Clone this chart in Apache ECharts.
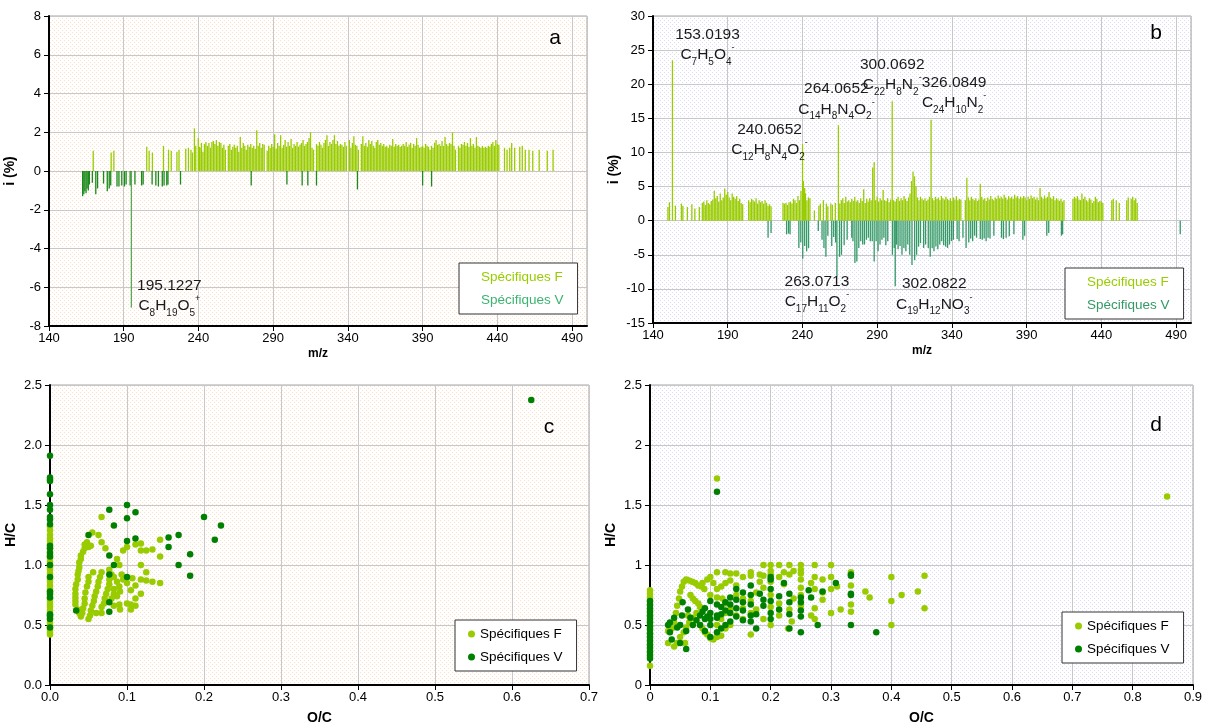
<!DOCTYPE html>
<html><head><meta charset="utf-8">
<script src="https://cdn.jsdelivr.net/npm/echarts@6/dist/echarts.min.js"></script>
<style>html,body{margin:0;padding:0;background:#fff}#c{width:1207px;height:726px}</style>
</head><body><div id="c"></div>
<script>
// ---------- DATA ----------
const seriesNames = ['Spécifiques F', 'Spécifiques V'];
const aTicksX = [140, 190, 240, 290, 340, 390, 440, 490];

// Panel a : m/z vs i (%)
const aF = [[169.6,1.05],[181.6,0.95],[183.4,1.05],[205.4,1.25],[207,1.05],[209.2,0.95],[216.6,1.3],[220,1.1],[221.8,1.05],[225.6,1.0],[227,1.1],[231.5,1.15],[233.3,1.2],[235,1.1],[236,0.95],[237.3,2.2],[238.2,1.3],[239.9,1.7],[240.7,1.25],
[241,1.2],[242,1.45],[243,1.0],[244,1.4],[245,1.5],[246,1.3],[247,1.45],[248,1.2],[249,1.5],[250,1.55],[251,1.4],[252,1.6],[253,1.3],[254,1.5],[255,1.45],[256,1.2],[257,1.35],[258,1.1],[260,1.3],[261,1.4],[262,1.1],[263,1.25],[264,1.35],[265,1.2],[266,1.3],[267,1.0],[268,1.75],[269,1.2],[270,1.45],[271,1.3],[272,1.1],[273,1.35],[274,1.25],[275,1.4],[276,1.2],[277,1.3],[278,1.15],[279,2.1],[280,1.3],[281,1.45],[282,1.2],[283,1.4],[284,1.35],[286,1.05],[287,1.3],[288,1.2],[289,1.4],[290,1.25],[291,1.9],[292,1.15],[293,1.45],[294,1.3],[295,1.85],[296,1.2],[297,1.35],[298,1.6],[299,1.25],[300,1.5],[301,1.3],[302,1.65],[303,1.2],[304,1.4],[305,1.3],[306,1.5],[307,1.25],[308,1.35],[309,1.45],[310,1.6],[311,1.3],[312,1.4],[313,1.5],[314,1.7],[315,2.0],[316,1.2],[317,1.1],[319,1.4],[320,1.3],[321,1.5],[322,1.35],[323,1.2],[324,1.45],[325,1.6],[326,1.85],[327,1.3],[328,1.5],[329,1.4],[330,1.6],[331,1.85],[332,1.4],[333,1.55],[334,1.3],[335,1.4],[336,1.35],[337,1.25],[338,1.5],[339,1.3],[341,1.6],[342,1.2],[343,1.45],[344,1.8],[345,1.35],[346,1.3],[347,1.1],[349,1.4],[350,1.8],[351,1.3],[352,1.45],[353,1.25],[354,1.6],[355,1.4],[356,1.55],[357,1.3],[358,1.2],[359,1.5],[360,1.6],[361,1.35],[362,1.45],[363,1.3],[364,1.4],[365,1.25],[366,1.3],[367,1.2],[368,1.35],[369,1.3],[370,1.65],[371,1.25],[372,1.4],[373,1.3],[374,1.35],[375,1.25],[376,1.3],[377,1.4],[378,1.3],[379,1.5],[380,1.25],[381,1.35],[382,1.45],[383,1.2],[384,1.4],[385,1.3],[386,1.7],[387,1.35],[388,1.2],[389,1.25],[390,1.3],[391,1.2],[392,1.4],[393,1.3],[394,1.25],[395,1.1],[396,1.3],[397,1.2],[398,1.45],[399,1.6],[400,1.35],[401,1.4],[402,1.3],[403,1.55],[404,1.3],[405,1.75],[406,1.4],[407,1.3],[408,1.45],[409,1.4],[410,2.0],[411,1.3],[412,1.1],[414,1.3],[415,1.2],[416,1.4],[417,1.35],[418,1.5],[419,1.3],[420,1.45],[421,1.25],[422,1.7],[423,1.3],[424,1.4],[425,1.2],[426,1.75],[427,1.3],[428,1.25],[429,1.2],[430,1.3],[431,1.2],[432,1.25],[433,1.2],[434,1.3],[435,1.25],[436,1.4],[437,1.5],[438,1.3],[439,1.6],[440,1.4],[441,1.35],
[444.8,1.2],[446.5,1.1],[448.3,1.2],[449.6,1.45],[451.6,1.2],[455,1.25],[456.7,1.3],[458.7,1.1],[461.2,1.1],[463.7,1.05],[468,1.1],[473.4,1.05],[477.3,1.1]];
const aV = [[162.5,-1.3],[163.3,-1.2],[164,-1.05],[164.8,-1.15],[165.5,-0.9],[166.3,-1.0],[167,-0.7],[169,-0.6],[171.3,-1.2],[172.5,-0.9],[176.5,-0.65],[179,-1.05],[180.3,-0.9],[181.3,-0.75],[185.5,-0.8],[186.8,-0.8],[188.7,-0.75],[190.5,-0.8],[191.6,-0.7],[194.3,-0.75],[195.1227,-7.05],[197.5,-0.7],[202,-0.75],[203,-0.7],[209,-0.7],[211.5,-0.75],[213.2,-0.8],[215.8,-0.8],[217,-0.75],[218.8,-0.75],[219.6,-0.7],[228,-0.7],[275.3,-0.75],[299.2,-0.7],[309.4,-0.75],[313.2,-0.75],[319,-0.75],[346.4,-0.95],[390,-0.75],[396,-0.8]];
const aAnnot = [{mz:195.1227, i:-7.05, mass:'195.1227', formula:'C{s|8}H{s|19}O{s|5}{p|+}'}];

// Panel b
const bF = [[150,2.0],[151,2.7],[153.0193,23.5],[155,2.2],[159,2.5],[160,2.2],[163,2.0],[166,2.4],[168,1.8],[171,2.0],[173,2.6],[174,2.8],[175,2.3],[176,3.0],[177,2.6],[178,2.4],[179,2.9],[180,3.1],[181,4.4],[182,3.3],[183,3.6],[184,2.8],[185,4.0],[186,3.0],[187,3.4],[188,4.7],[189,3.8],[190,4.2],[191,3.4],[192,3.0],[193,4.0],[194,3.5],[195,3.2],[196,3.6],[197,2.9],[198,3.2],[199,2.6],[200,2.4],
[204,3.0],[205,2.7],[206,3.2],[207,3.0],[208,2.8],[209,3.3],[210,2.5],[211,3.0],[212,2.7],[213,2.9],[214,2.5],[215,3.0],[216,2.6],[217,2.2],[218,2.4],[219,2.1],
[227,2.6],[228,2.5],[229,2.6],[230,2.3],[231,2.7],[232,2.8],[233,2.5],[234,3.2],[235,3.0],[236,2.6],[237,3.6],[238,3.0],[239,4.4],[240.0652,11.2],[240.6,5.8],[241.5,4.8],[242,4.0],[243,3.0],[244,3.4],[245,3.3],
[248,1.5],[251,2.2],[252,2.5],[254,3.0],[256,2.5],[257,2.1],[259,2.5],[260,2.3],[262,2.6],[264.0652,14.0],[265,2.5],[266,3.0],[267,3.3],[268,2.6],[269,3.5],[270,2.8],[271,3.0],[272,2.7],[273,3.2],[274,2.9],[275,3.5],[276,2.8],[277,3.0],[278,2.6],[279,3.3],[280,2.9],[281,4.6],[282,2.6],[283,3.2],[284,2.8],[285,3.3],[286,3.0],[287,7.8],[288,8.6],[289,3.0],[290,3.5],[291,2.8],[292,3.3],[293,3.0],[294,4.5],[295,3.0],[296,2.9],[297,3.3],[298,2.7],[299,3.1],[300.0692,17.5],[301,3.0],[302,2.8],[303,3.2],[304,3.5],[305,2.9],[306,3.3],[307,3.0],[308,3.6],[309,3.2],[310,2.9],[311,3.4],[312,4.0],[313,5.8],[314,7.2],[315,6.5],[316,5.0],[317,3.4],[318,3.0],[319,3.5],[320,3.2],[321,3.0],[322,3.3],[323,2.9],[324,3.1],[325,3.5],[326.0849,14.8],[327,3.3],[328,3.0],[329,3.5],[330,3.2],[331,3.4],[332,3.0],[333,3.6],[334,3.3],[335,3.1],[336,3.5],[337,3.2],[338,3.0],[339,3.3],[340,2.9],[341,3.4],[342,3.1],[343,3.6],[344,3.0],[345,3.2],[346,3.1],[349,3.0],[350,6.3],[351,3.4],[352,3.0],[353,3.5],[354,3.2],[355,3.0],[356,3.3],[357,2.9],[358,3.1],[359,5.4],[360,3.5],[361,3.1],[362,3.3],[363,2.9],[364,3.4],[365,3.1],[366,3.6],[367,3.2],[368,3.0],[369,3.4],[370,3.2],[371,3.7],[372,3.3],[373,3.5],[374,3.2],[375,3.8],[376,3.4],[377,3.1],[378,3.6],[379,3.3],[380,3.5],[381,3.2],[382,3.8],[383,3.4],[384,3.6],[385,3.2],[386,3.5],[387,3.3],[388,3.6],[389,3.4],[390,3.0],[391,3.5],[392,3.2],[393,3.7],[394,3.3],[395,3.5],[396,3.1],[397,3.4],[398,3.0],[399,4.8],[400,3.5],[401,3.2],[402,3.7],[403,3.3],[404,3.5],[405,4.2],[406,3.4],[407,3.2],[408,3.6],[409,3.0],[410,3.3],[411,3.1],[412,2.9],[413,3.2],[414,2.8],[415,3.0],
[421,3.2],[422,3.5],[423,3.3],[424,3.6],[425,3.1],[426,3.0],[427,4.0],[428,3.2],[429,3.5],[430,3.0],[431,2.8],[432,3.3],[433,3.1],[434,2.6],[435,2.9],[436,3.5],[437,3.2],[438,2.7],[439,2.9],[440,2.8],[441,2.6],
[447,3.0],[448,3.2],[450,3.0],[452,2.6],[457,3.0],[458,3.4],[460,3.2],[461,3.5],[462,3.0],[463,3.3],[464,2.6]];
const bV = [[217,-2.5],[219,-1.8],[229.4,-2.0],[230.7,-1.9],[231.7,-2.0],[237.6,-4.0],[238.9,-3.2],[240.2,-5.6],[241.5,-3.7],[242.8,-4.5],[244.1,-4.0],[250.6,-1.5],[253.1,-2.8],[254.4,-4.0],[255.7,-5.3],[257,-2.2],[259.6,-3.7],[260.9,-2.4],[262.2,-3.2],[263.0713,-8.2],[264.8,-5.3],[266.1,-5.0],[267.9,-3.6],[269.9,-2.8],[273,-2.5],[273.8,-3.0],[275.1,-6.2],[276.4,-6.0],[277.7,-4.0],[279,-3.0],[280.3,-3.5],[281.5,-3.5],[282.8,-2.8],[284.1,-2.5],[285.4,-3.0],[286.7,-3.0],[288,-6.0],[289.3,-3.0],[290.6,-4.5],[291.9,-3.5],[293.2,-2.8],[294.5,-2.5],[295.8,-3.6],[297.1,-3.0],[300.2,-5.0],[301.4,-4.0],[302.0822,-9.6],[303,-3.5],[304,-4.2],[305.3,-3.7],[306.6,-5.0],[307.9,-4.0],[309.2,-4.5],[310.5,-3.5],[311.8,-5.0],[313.3,-6.5],[315.1,-5.8],[316.4,-5.0],[317.7,-3.8],[319,-3.3],[321.1,-4.0],[322.4,-3.5],[324.2,-4.0],[325.5,-5.3],[326.8,-4.0],[328,-4.5],[329.3,-3.8],[330.6,-4.2],[331.9,-3.5],[333.2,-3.0],[334.5,-3.6],[335.8,-3.8],[337.1,-4.0],[338.4,-3.5],[339.7,-3.0],[341,-2.8],[343.5,-2.7],[344.8,-3.0],[347.4,-2.5],[349.5,-4.0],[351.3,-3.2],[352.6,-2.6],[353.9,-3.0],[355.2,-2.2],[356.5,-2.5],[359,-2.7],[360.3,-2.8],[361.6,-2.6],[362.9,-3.0],[364.2,-2.5],[365.5,-2.6],[368.1,-2.2],[373.2,-2.5],[374.5,-2.7],[376.3,-2.5],[378.4,-2.3],[381.5,-2.0],[387.5,-2.8],[388.7,-2.2],[403.5,-2.2],[404.8,-1.8],[413.3,-2.2],[414.1,-2.0],[492.8,-2.0]];
const bAnnotF = [
 {mz:153.0193, i:23.5, mass:'153.0193', formula:'C{s|7}H{s|5}O{s|4}{p|-}'},
 {mz:240.0652, i:11.2, mass:'240.0652', formula:'C{s|12}H{s|8}N{s|4}O{s|2}{p|-}'},
 {mz:264.0652, i:14.0, mass:'264.0652', formula:'C{s|14}H{s|8}N{s|4}O{s|2}{p|-}'},
 {mz:300.0692, i:17.5, mass:'300.0692', formula:'C{s|22}H{s|8}N{s|2}{p|-}'},
 {mz:326.0849, i:14.8, mass:'326.0849', formula:'C{s|24}H{s|10}N{s|2}{p|-}'}];
const bAnnotV = [
 {mz:263.0713, i:-8.2, mass:'263.0713', formula:'C{s|17}H{s|11}O{s|2}{p|-}'},
 {mz:302.0822, i:-9.6, mass:'302.0822', formula:'C{s|19}H{s|12}NO{s|3}{p|-}'}];

// Panel c : O/C vs H/C
const cF = [[0,0.42],[0,0.44],[0,0.46],[0,0.48],[0,0.5],[0,0.52],[0,0.55],[0,0.57],[0,0.6],[0,0.62],[0,0.65],[0,0.67],[0,0.7],[0,0.72],[0,0.75],[0,0.78],[0,0.8],[0,0.83],[0,0.86],[0,0.88],[0,0.9],[0,0.93],[0,0.96],[0,0.98],[0,1.0],[0,1.03],[0,1.06],[0,1.08],[0,1.11],[0,1.14],[0,1.17],[0,1.2],[0,1.22],[0,1.25],[0,1.29],[0,1.32],
[0.033,0.67],[0.033,0.7],[0.033,0.73],[0.033,0.76],[0.033,0.8],[0.034,0.84],[0.036,0.88],[0.036,0.92],[0.037,0.95],[0.038,0.98],[0.038,1.02],[0.04,1.05],[0.04,1.08],[0.043,1.11],[0.045,1.14],[0.045,1.17],[0.048,1.19],[0.05,1.15],[0.053,1.16],[0.055,1.27],[0.063,1.25],[0.067,1.19],[0.067,1.4],[0.072,1.14],
[0.036,0.63],[0.038,0.6],[0.04,0.57],[0.042,0.6],[0.043,0.64],[0.045,0.68],[0.045,0.72],[0.046,0.77],[0.048,0.82],[0.05,0.86],[0.05,0.9],[0.05,0.55],[0.052,0.58],[0.053,0.62],[0.055,0.66],[0.057,0.7],[0.058,0.74],[0.06,0.78],[0.062,0.82],[0.063,0.86],[0.065,0.9],[0.067,0.94],[0.056,0.94],[0.06,0.6],[0.067,0.6],[0.067,0.65],[0.07,0.68],[0.071,0.72],[0.073,0.76],[0.075,0.8],[0.077,0.84],[0.077,0.88],[0.077,0.96],[0.08,0.92],[0.08,0.72],[0.083,0.66],[0.083,0.76],[0.083,0.8],[0.083,0.9],[0.087,0.86],[0.087,0.74],[0.087,1.05],[0.09,1.0],[0.09,0.67],[0.09,0.82],[0.091,0.63],[0.091,0.78],[0.093,0.92],[0.095,0.88],[0.095,1.12],[0.1,1.15],[0.1,0.85],[0.1,0.68],[0.105,0.79],[0.105,0.67],[0.105,0.63],[0.107,0.89],[0.111,0.83],[0.111,0.72],[0.111,0.66],[0.111,1.17],[0.118,1.18],[0.118,1.12],[0.118,1.0],[0.118,0.88],[0.118,0.76],[0.125,1.12],[0.125,0.94],[0.125,0.87],[0.133,1.13],[0.133,0.86],[0.143,1.21],[0.143,1.07],[0.143,0.85]];
const cV = [[0,1.91],[0,1.73],[0,1.71],[0,1.70],[0,1.59],[0,1.50],[0,1.46],[0,1.40],[0,1.38],[0,1.34],[0,1.16],[0,1.14],[0,1.10],[0,1.07],[0,1.00],[0,0.90],[0,0.78],[0,0.76],[0,0.73],[0,0.59],[0,0.58],[0,0.55],[0,0.48],
[0.625,2.375],[0.077,1.46],[0.1,1.5],[0.111,1.44],[0.1,1.39],[0.083,1.33],[0.2,1.4],[0.222,1.33],[0.05,1.25],[0.167,1.25],[0.154,1.23],[0.214,1.21],[0.111,1.22],[0.1,1.2],[0.154,1.15],[0.077,1.08],[0.182,1.09],[0.083,1.0],[0.167,1.0],[0.077,0.92],[0.1,0.9],[0.182,0.91],[0.077,0.69],[0.034,0.62],[0.077,0.61]];

// Panel d
const dF = [[0,0.16],[0,0.24],[0,0.27],[0,0.3],[0,0.33],[0,0.36],[0,0.4],[0,0.43],[0,0.47],[0,0.5],[0,0.53],[0,0.57],[0,0.6],[0,0.63],[0,0.66],[0,0.7],[0,0.73],[0,0.76],[0,0.79],
[0.03,0.35],[0.03,0.45],[0.036,0.47],[0.04,0.52],[0.043,0.6],[0.045,0.66],[0.048,0.72],[0.05,0.78],[0.053,0.82],[0.056,0.86],[0.06,0.88],[0.065,0.87],[0.07,0.86],[0.075,0.85],[0.08,0.83],[0.085,0.82],[0.09,0.8],[0.095,0.88],[0.1,0.9],[0.105,0.85],[0.087,0.85],[0.067,0.75],[0.071,0.72],[0.075,0.7],[0.08,0.68],[0.083,0.65],[0.077,0.6],[0.071,0.56],[0.065,0.52],[0.06,0.48],[0.056,0.44],[0.05,0.4],[0.045,0.35],[0.04,0.32],[0.058,0.35],[0.063,0.58],[0.083,0.5],[0.087,0.47],[0.091,0.44],[0.095,0.42],[0.1,0.39],[0.105,0.38],[0.111,0.4],[0.118,0.41],[0.111,0.5],[0.118,0.55],[0.125,0.6],[0.133,0.63],[0.125,0.68],[0.12,0.72],[0.111,0.73],[0.1,0.75],[0.111,0.8],[0.118,0.82],[0.125,0.85],[0.133,0.87],[0.143,0.83],[0.143,0.75],[0.154,0.72],[0.154,0.64],[0.143,0.58],[0.133,0.5],[0.125,0.47],[0.154,0.55],[0.167,0.6],[0.167,0.7],[0.176,0.77],[0.182,0.86],[0.154,0.9],[0.167,0.91],[0.188,0.91],[0.2,0.92],[0.214,0.9],[0.222,0.94],[0.238,0.95],[0.176,0.63],[0.188,0.55],[0.2,0.65],[0.2,0.75],[0.214,0.68],[0.214,0.58],[0.231,0.63],[0.238,0.72],[0.25,0.66],[0.267,0.85],[0.273,0.8],[0.286,0.88],[0.25,0.96],
[0.111,0.94],[0.125,0.94],[0.133,0.93],[0.143,0.93],[0.167,0.94],[0.182,0.92],
[0.188,1.0],[0.2,1.0],[0.214,1.0],[0.231,1.0],[0.25,1.0],[0.273,1.0],[0.3,1.0],
[0.333,0.94],[0.333,0.83],[0.333,0.67],[0.333,0.61],
[0.4,0.9],[0.455,0.91],[0.4,0.7],[0.4,0.5],[0.417,0.75],[0.444,0.78],[0.455,0.64],[0.364,0.73],[0.357,0.78],[0.3,0.9],[0.3,0.8],[0.3,0.6],[0.31,0.82],[0.316,0.63],[0.286,0.71],[0.286,0.77],[0.273,0.9],[0.273,0.64],[0.267,0.58],[0.273,0.55],[0.25,0.93],[0.25,0.88],[0.25,0.81],[0.25,0.75],[0.222,0.84],[0.231,0.92],[0.2,0.95],[0.2,0.5],[0.235,0.53],[0.229,0.47],[0.167,0.42],[0.2,0.86],[0.188,0.81],
[0.111,1.72],[0.857,1.57]];
const dV = [[0,0.22],[0,0.25],[0,0.28],[0,0.31],[0,0.34],[0,0.37],[0,0.4],[0,0.43],[0,0.46],[0,0.49],[0,0.52],[0,0.55],[0,0.58],[0,0.61],[0,0.64],[0,0.67],[0,0.7],
[0.111,1.61],[0.375,0.44],[0.333,0.5],[0.333,0.75],[0.333,0.76],[0.333,0.91],[0.333,0.92],[0.308,0.85],[0.286,0.78],[0.278,0.5],[0.267,0.73],[0.263,0.79],[0.25,0.44],[0.25,0.57],[0.25,0.62],[0.25,0.69],[0.25,0.73],[0.231,0.76],[0.231,0.69],[0.231,0.59],[0.231,0.47],[0.222,0.85],[0.214,0.74],[0.214,0.63],[0.2,0.8],[0.2,0.7],[0.2,0.6],[0.2,0.55],[0.2,0.9],[0.2,0.88],[0.188,0.71],[0.188,0.66],[0.182,0.76],[0.176,0.47],[0.176,0.59],[0.167,0.83],[0.167,0.75],[0.167,0.67],[0.167,0.58],[0.167,0.53],[0.154,0.77],[0.154,0.69],[0.154,0.62],[0.154,0.54],[0.143,0.8],[0.143,0.71],[0.143,0.64],[0.143,0.57],[0.133,0.73],[0.133,0.67],[0.133,0.6],[0.133,0.53],[0.125,0.69],[0.125,0.62],[0.125,0.5],[0.118,0.65],[0.118,0.59],[0.118,0.47],[0.111,0.67],[0.111,0.58],[0.111,0.56],[0.111,0.44],[0.1,0.7],[0.1,0.6],[0.1,0.55],[0.1,0.5],[0.1,0.4],[0.095,0.57],[0.091,0.64],[0.091,0.55],[0.091,0.45],[0.087,0.61],[0.083,0.58],[0.083,0.5],[0.077,0.54],[0.071,0.5],[0.067,0.56],[0.063,0.63],[0.06,0.45],[0.06,0.3],[0.054,0.69],[0.053,0.58],[0.05,0.5],[0.05,0.35],[0.045,0.48],[0.04,0.56],[0.033,0.52],[0.033,0.44],[0.036,0.38],[0.03,0.5]];

// ---------- STYLE ----------
const FONT = "'Liberation Sans', Arial, sans-serif";
const GREEN_F = '#99cc00';
function pattern(dot) {
  const c = document.createElement('canvas'); c.width = 4; c.height = 4;
  const g = c.getContext('2d');
  g.fillStyle = '#ffffff'; g.fillRect(0, 0, 4, 4);
  g.fillStyle = dot; g.fillRect(0, 0, 1, 1); g.fillRect(2, 2, 1, 1);
  return { image: c, repeat: 'repeat' };
}
const peach = pattern('#fde0c6');
const lav = pattern('#dcdcf7');

const grids = [
  {left: 49, top: 16, width: 538, height: 310, bg: peach},
  {left: 653, top: 16, width: 538, height: 307, bg: lav},
  {left: 50, top: 385, width: 539, height: 307, bg: peach},
  {left: 650, top: 385, width: 543, height: 306, bg: lav}
];

const labelStyle = {color: '#000', fontSize: 13, fontFamily: FONT};
function xAx(i, min, max, interval, name, fmt, hideMax) {
  return {gridIndex: i, type: 'value', min, max, interval,
    axisLine: {show: true, onZero: false, lineStyle: {color: '#000', width: 2}},
    axisTick: {show: true, length: 5, lineStyle: {color: '#000', width: 1}},
    axisLabel: Object.assign({margin: 6, showMaxLabel: !hideMax, formatter: fmt}, labelStyle),
    splitLine: {show: true, lineStyle: {color: '#c8c8c8', width: 1}},
    name, nameLocation: 'middle', nameGap: name === 'm/z' ? 22 : 26,
    nameTextStyle: {fontWeight: 'bold', fontSize: name === 'm/z' ? 12 : 14, color: '#000', fontFamily: FONT}};
}
function yAx(i, min, max, interval, name, fmt) {
  return {gridIndex: i, type: 'value', min, max, interval,
    axisLine: {show: true, onZero: false, lineStyle: {color: '#000', width: 2}},
    axisTick: {show: true, length: 5, lineStyle: {color: '#000', width: 1}},
    axisLabel: Object.assign({margin: 8, formatter: fmt}, labelStyle),
    splitLine: {show: true, lineStyle: {color: '#c8c8c8', width: 1}},
    name, nameLocation: 'middle', nameGap: 32, nameRotate: 90,
    nameTextStyle: {fontWeight: 'bold', fontSize: 14, color: '#000', fontFamily: FONT}};
}
const f1 = v => v.toFixed(1);

const rich = {
  s: {fontSize: 10, lineHeight: 8, verticalAlign: 'bottom', fontFamily: FONT, color: '#1a1a1a'},
  p: {fontSize: 9, lineHeight: 24, verticalAlign: 'top', fontFamily: FONT, color: '#1a1a1a'}
};
function annots(list, offsets) {
  return {
    symbol: 'circle', symbolSize: 0, silent: true,
    data: list.map((a, k) => ({
      coord: [a.mz, a.i],
      label: {show: true, position: 'inside', offset: offsets[k], align: 'center', verticalAlign: 'middle',
        formatter: a.mass + '\n' + a.formula, fontSize: 15.5, lineHeight: 17, color: '#1a1a1a', fontFamily: FONT, rich}
    }))
  };
}

function barSeries(name, data, xi, color, extra) {
  return Object.assign({name, type: 'bar', xAxisIndex: xi, yAxisIndex: xi, data,
    barWidth: 1.3, barGap: '-100%', itemStyle: {color}, animation: false, emphasis: {disabled: true}}, extra || {});
}
function scatSeries(name, data, xi, color) {
  return {name, type: 'scatter', xAxisIndex: xi, yAxisIndex: xi, data, symbol: 'circle', symbolSize: 6.5,
    itemStyle: {color, opacity: 1}, animation: false, emphasis: {disabled: true}};
}

function textLegend(left, top, colF, colV) {
  return {orient: 'vertical', left, top, padding: [7, 14, 7, 17], itemWidth: 0, itemHeight: 8, itemGap: 9,
    backgroundColor: '#fff', borderColor: '#333', borderWidth: 1, borderRadius: 0, selectedMode: false,
    icon: 'rect',
    textStyle: {fontSize: 13.5, fontFamily: FONT},
    data: [{name: seriesNames[0], textStyle: {color: colF}}, {name: seriesNames[1], textStyle: {color: colV}}]};
}
function dotLegend(left, top) {
  return {orient: 'vertical', left, top, padding: [7, 14, 7, 13], itemWidth: 7, itemHeight: 7, itemGap: 9,
    backgroundColor: '#fff', borderColor: '#333', borderWidth: 1, selectedMode: false, icon: 'circle',
    textStyle: {fontSize: 13.5, fontFamily: FONT, color: '#000'},
    data: [{name: seriesNames[0], itemStyle: {color: GREEN_F}}, {name: seriesNames[1], itemStyle: {color: '#008000'}}]};
}

const aVdata = aV.map(p => p[1] < -5 ? {value: p, itemStyle: {color: '#5aaa5a'}} : p);

const option = {
  backgroundColor: '#fff',
  animation: false,
  textStyle: {fontFamily: FONT},
  grid: grids.map(g => ({left: g.left, top: g.top, width: g.width, height: g.height, show: true,
    backgroundColor: g.bg, borderColor: '#a6a6a6', borderWidth: 1, containLabel: false})),
  xAxis: [xAx(0, aTicksX[0], 500, 50, 'm/z', null, true), xAx(1, aTicksX[0], 500, 50, 'm/z', null, true),
          xAx(2, 0, 0.7, 0.1, 'O/C', f1, false), xAx(3, 0, 0.9, 0.1, 'O/C', null, false)],
  yAxis: [yAx(0, -8, 8, 2, 'i (%)'), yAx(1, -15, 30, 5, 'i (%)'),
          yAx(2, 0, 2.5, 0.5, 'H/C', f1), yAx(3, 0, 2.5, 0.5, 'H/C')],
  legend: [textLegend(459, 263, GREEN_F, '#3cb371'), textLegend(1065, 268, GREEN_F, '#339966'),
           dotLegend(455, 620), dotLegend(1062, 612)],
  series: [
    barSeries(seriesNames[0], aF, 0, GREEN_F),
    barSeries(seriesNames[1], aVdata, 0, '#1a8a1a', {markPoint: annots(aAnnot, [[38, -10]])}),
    barSeries(seriesNames[0], bF, 1, GREEN_F, {markPoint: annots(bAnnotF, [[35, -14], [-33, -3], [-2, -24], [0, -25], [23, -25]])}),
    barSeries(seriesNames[1], bV, 1, '#339966', {markPoint: annots(bAnnotV, [[-20, 17], [39, 10]])}),
    scatSeries(seriesNames[0], cF, 2, GREEN_F),
    scatSeries(seriesNames[1], cV, 2, '#008000'),
    scatSeries(seriesNames[0], dF, 3, GREEN_F),
    scatSeries(seriesNames[1], dV, 3, '#008000')
  ],
  graphic: [
    {type: 'text', x: 555, y: 38, style: {text: 'a', font: '21px ' + FONT, fill: '#000', align: 'center', verticalAlign: 'middle'}},
    {type: 'text', x: 1156, y: 33, style: {text: 'b', font: '21px ' + FONT, fill: '#000', align: 'center', verticalAlign: 'middle'}},
    {type: 'text', x: 549, y: 427, style: {text: 'c', font: '21px ' + FONT, fill: '#000', align: 'center', verticalAlign: 'middle'}},
    {type: 'text', x: 1156, y: 425, style: {text: 'd', font: '21px ' + FONT, fill: '#000', align: 'center', verticalAlign: 'middle'}}
  ]
};

const chart = echarts.init(document.getElementById('c'), null, {renderer: 'canvas'});
chart.setOption(option);
</script>
</body></html>
